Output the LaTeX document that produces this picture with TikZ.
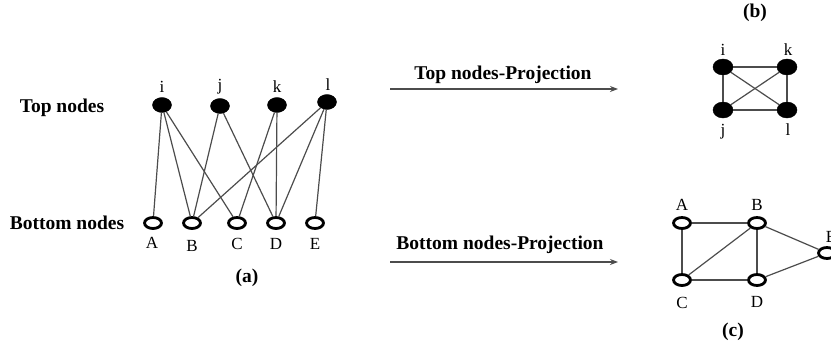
\documentclass[tikz,border=0pt]{standalone}
\usepackage{fontspec}
\setmainfont{Liberation Serif}
\usetikzlibrary{shapes.geometric,arrows.meta}
\begin{document}
\begin{tikzpicture}[x=1pt,y=-1pt,
 topnode/.style={ellipse,fill=black,draw=black,minimum width=19pt,minimum height=15pt,inner sep=0pt},
 botnode/.style={ellipse,fill=white,draw=black,line width=2.8pt,minimum width=17pt,minimum height=11pt,inner sep=0pt},
 lbl/.style={font=\fontsize{17}{19}\selectfont,inner sep=0pt},
 heading/.style={font=\fontsize{19.5}{22}\selectfont\bfseries,inner sep=0pt},
 edge/.style={draw=black!70,line width=1.2pt},
 proj/.style={draw=black!70,line width=1.3pt,-{Stealth[length=8pt,width=6pt]}}]
\useasboundingbox (0,0) rectangle (831,348);
% ---- panel (a)
\node[heading] (htop) at (62,108) {Top nodes};
\node[heading] (hbot) at (67,223) {Bottom nodes};
\node[topnode] (i) at (162,105) {};
\node[topnode] (j) at (220,106) {};
\node[topnode] (k) at (277,105) {};
\node[topnode] (l) at (327,102) {};
\node[lbl] (li) at (162,87) {i};
\node[lbl] (lj) at (220,87) {j};
\node[lbl] (lk) at (277,87) {k};
\node[lbl] (ll) at (328,85) {l};
\node[botnode] (A) at (153,223) {};
\node[botnode] (B) at (192,223) {};
\node[botnode] (C) at (237,223) {};
\node[botnode] (D) at (276,223) {};
\node[botnode] (E) at (315,223) {};
\node[lbl] (lA) at (152,243) {A};
\node[lbl] (lB) at (192,246) {B};
\node[lbl] (lC) at (237,244) {C};
\node[lbl] (lD) at (276,244) {D};
\node[lbl] (lE) at (315,244) {E};
\draw[edge] (i) -- (A);
\draw[edge] (i) -- (B);
\draw[edge] (i) -- (C);
\draw[edge] (j) -- (B);
\draw[edge] (j) -- (D);
\draw[edge] (k) -- (C);
\draw[edge] (k) -- (D);
\draw[edge] (l) -- (B);
\draw[edge] (l) -- (D);
\draw[edge] (l) -- (E);
\node[heading] (capa) at (247,278) {(a)};
% ---- arrows
\coordinate (t1) at (390,89);
\coordinate (t2) at (618,89);
\coordinate (b1) at (390,262);
\coordinate (b2) at (618,262);
\draw[proj] (t1) -- (t2);
\draw[proj] (b1) -- (b2);
\node[heading] (ttop) at (503,75) {Top nodes-Projection};
\node[heading] (tbot) at (500,245) {Bottom nodes-Projection};
% ---- panel (b)
\node[heading] (capb) at (755,13) {(b)};
\node[topnode,minimum width=20pt,minimum height=16pt] (bi) at (723,67) {};
\node[topnode,minimum width=20pt,minimum height=16pt] (bk) at (787,67) {};
\node[topnode,minimum width=20pt,minimum height=16pt] (bj) at (723,110) {};
\node[topnode,minimum width=20pt,minimum height=16pt] (bl) at (787,110) {};
\node[lbl] (lbi) at (723,50) {i};
\node[lbl] (lbk) at (788,50) {k};
\node[lbl] (lbj) at (723,132) {j};
\node[lbl] (lbl) at (788,130) {l};
\draw[edge] (bi) -- (bk);
\draw[edge] (bi) -- (bj);
\draw[edge] (bi) -- (bl);
\draw[edge] (bk) -- (bj);
\draw[edge] (bk) -- (bl);
\draw[edge] (bj) -- (bl);
% ---- panel (c)
\node[botnode] (cA) at (682,223) {};
\node[botnode] (cB) at (757,223) {};
\node[botnode] (cC) at (682,280) {};
\node[botnode] (cD) at (757,280) {};
\node[botnode] (cE) at (827,253) {};
\node[lbl] (lcA) at (682,205) {A};
\node[lbl] (lcB) at (757,205) {B};
\node[lbl] (lcC) at (682,303) {C};
\node[lbl] (lcD) at (757,302) {D};
\node[lbl] (lcE) at (831,237) {E};
\draw[edge] (cA) -- (cB);
\draw[edge] (cA) -- (cC);
\draw[edge] (cC) -- (cB);
\draw[edge] (cB) -- (cD);
\draw[edge] (cC) -- (cD);
\draw[edge] (cB) -- (cE);
\draw[edge] (cD) -- (cE);
\node[heading] (capc) at (733,332) {(c)};
\end{tikzpicture}
\end{document}
